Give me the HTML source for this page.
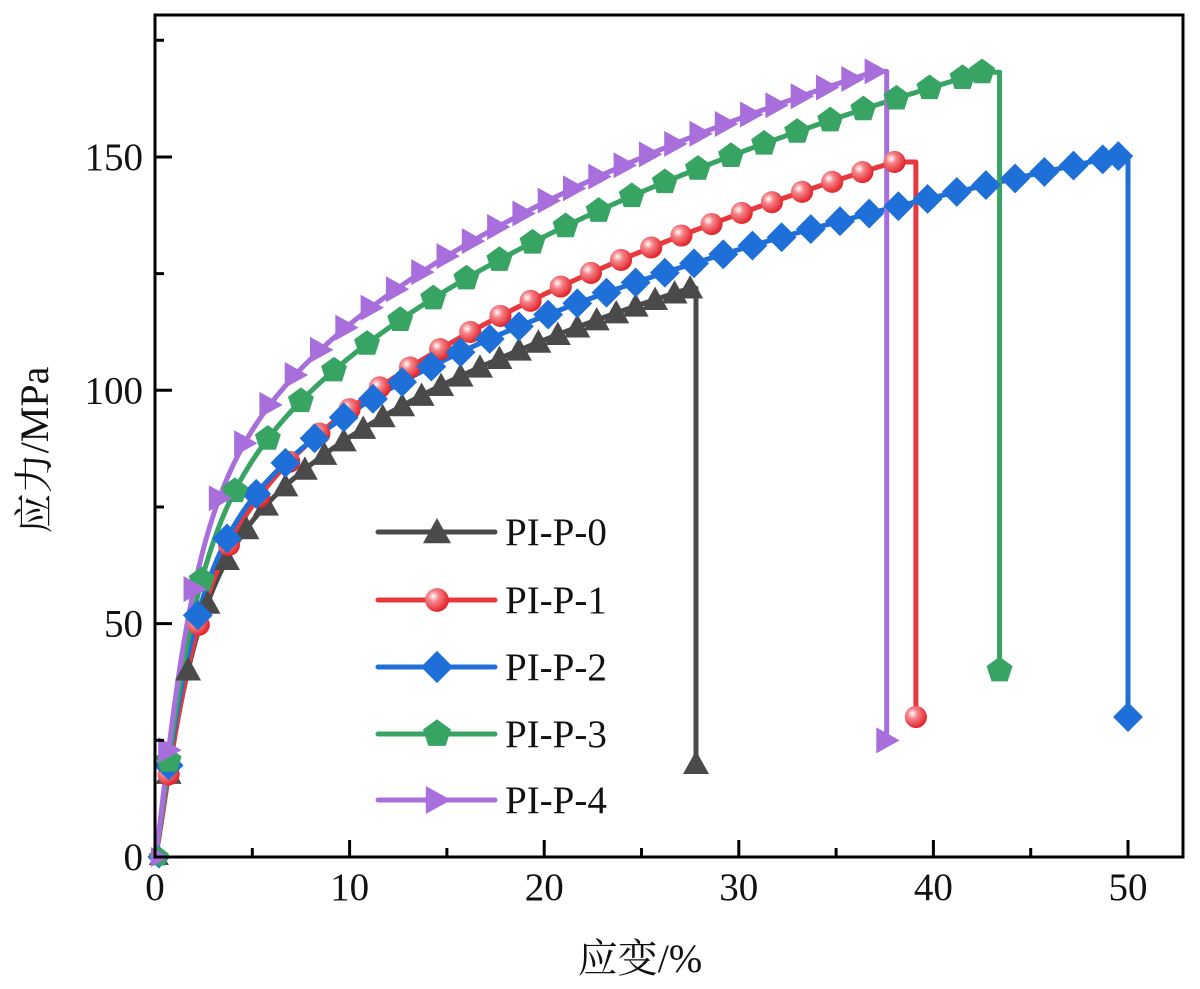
<!DOCTYPE html>
<html><head><meta charset="utf-8"><style>
body{margin:0;background:#fff}
svg text{font-family:"Liberation Serif","Noto Serif CJK SC",serif;fill:#111}
</style></head><body>
<svg id="s" width="1200" height="984" xmlns="http://www.w3.org/2000/svg">
<defs>
<radialGradient id="rg" cx="35%" cy="35%" r="65%"><stop offset="0" stop-color="#fff"/><stop offset="0.35" stop-color="#f4858a"/><stop offset="1" stop-color="#e3262d"/></radialGradient>
</defs>
<g id="plot"></g>
<rect x="155" y="15" width="1028" height="842" fill="none" stroke="#000" stroke-width="3"/>
<g id="ax"></g>
<text x="640" y="972" font-size="40" text-anchor="middle">应变/%</text>
<text transform="translate(48,450) rotate(-90)" font-size="40" text-anchor="middle">应力/MPa</text>
</svg>
<script>
const NS="http://www.w3.org/2000/svg";
const X=v=>155+v*19.46, Y=v=>857-v*4.667;
const P=document.getElementById('plot'),A=document.getElementById('ax');
function el(t,a,p){const e=document.createElementNS(NS,t);for(const k in a)e.setAttribute(k,a[k]);(p||P).appendChild(e);return e;}
for(let v=0;v<=50;v+=5){const x=X(v);el('line',{x1:x,x2:x,y1:857,y2:v%10?848:840,stroke:'#000','stroke-width':3},A);
 if(v%10==0){const t=el('text',{x:x,y:900,'font-size':39,'text-anchor':'middle'},A);t.textContent=v;}}
for(let v=0;v<=175;v+=25){const y=Y(v);el('line',{x1:155,x2:v%50?164:172,y1:y,y2:y,stroke:'#000','stroke-width':3},A);
 if(v%50==0){const t=el('text',{x:143,y:y+13,'font-size':39,'text-anchor':'end'},A);t.textContent=v;}}
function mk(type,x,y,c,s){s=s||13;
 if(type=='tri')return el('polygon',{points:`${x},${y-s} ${x-s},${y+s*0.8} ${x+s},${y+s*0.8}`,fill:c});
 if(type=='cir')return el('circle',{cx:x,cy:y,r:s*0.85,fill:'url(#rg)'});
 if(type=='dia')return el('polygon',{points:`${x},${y-s*1.15} ${x+s*1.15},${y} ${x},${y+s*1.15} ${x-s*1.15},${y}`,fill:c});
 if(type=='pen'){let p=[];for(let i=0;i<5;i++){const a=-Math.PI/2+i*2*Math.PI/5;p.push((x+s*1.05*Math.cos(a))+','+(y+s*1.05*Math.sin(a)));}return el('polygon',{points:p.join(' '),fill:c});}
 if(type=='rt')return el('polygon',{points:`${x+s},${y} ${x-s*0.8},${y-s} ${x-s*0.8},${y+s}`,fill:c});
}
const S=[
 {c:'#4a4a4a',t:'tri',a:45.1,b:0.30,end:27.5,dx:27.8,dy:20,st:1.0},
 {c:'#e8383d',t:'cir',a:45,b:0.329,end:38,dx:39.1,dy:30,st:1.55},
 {c:'#1f6fd8',t:'dia',a:49.2,b:0.286,end:49.5,dx:50,dy:30,st:1.5},
 {c:'#37a463',t:'pen',a:52.2,b:0.312,end:42.5,dx:43.4,dy:40,st:1.7},
 {c:'#a86fdc',t:'rt',a:57.6,b:0.297,end:37,dx:37.6,dy:25,st:1.3},
];
S.forEach(s=>{s.f=x=>x<=0?0:s.a*Math.pow(x,s.b)*(1-Math.exp(-x/1.2));});
S.forEach(s=>{
 let pts=[X(0)+','+Y(0)];for(let x=0.1;x<=s.end+1e-6;x+=0.1)pts.push(X(x)+','+Y(s.f(x)));
 pts.push(X(s.dx)+','+Y(s.f(s.end)));pts.push(X(s.dx)+','+Y(s.dy));
 el('polyline',{points:pts.join(' '),fill:'none',stroke:s.c,'stroke-width':5,'stroke-linejoin':'round'});
});
S.forEach(s=>{
 mk(s.t,X(0.2),Y(0),s.c,10);
 for(let x=0.7;x<=s.end-0.5;x+=s.st)mk(s.t,X(x),Y(s.f(x)),s.c);
 mk(s.t,X(s.end),Y(s.f(s.end)),s.c);
 mk(s.t,X(s.dx),Y(s.dy),s.c);
});
const names=['PI-P-0','PI-P-1','PI-P-2','PI-P-3','PI-P-4'],ly=[532,600,667,734,800];
S.forEach((s,i)=>{el('line',{x1:378,x2:495,y1:ly[i],y2:ly[i],stroke:s.c,'stroke-width':5,'stroke-linecap':'round'});
 mk(s.t,437,ly[i],s.c,14);const t=el('text',{x:505,y:ly[i]+13,'font-size':39});t.textContent=names[i];});
</script>
</body></html>
